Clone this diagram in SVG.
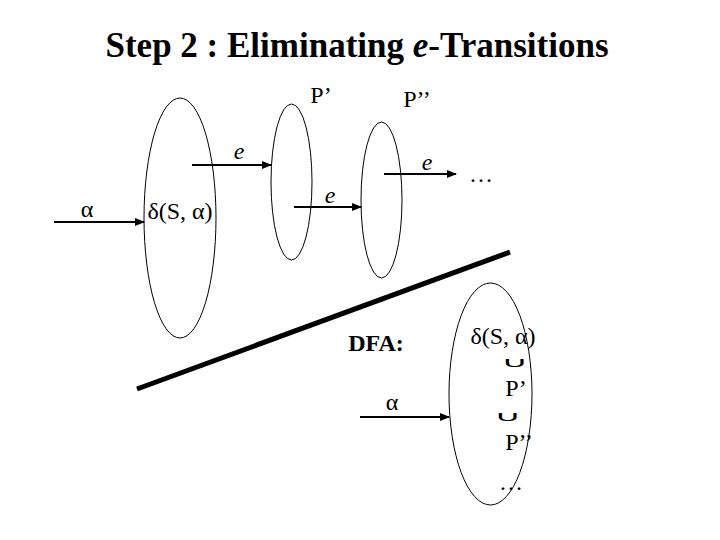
<svg xmlns="http://www.w3.org/2000/svg" width="720" height="540" viewBox="0 0 720 540">
<style>
text{font-family:"Liberation Serif","Times New Roman",serif;fill:#000}
.t{font-size:24px}
.cup{font-family:"DejaVu Sans","Liberation Serif",sans-serif;font-size:24px;font-weight:200}
.i{font-style:italic}
.b{font-weight:bold}
.node ellipse{fill:none;stroke:#000;stroke-width:1}
.edge line{stroke:#000;stroke-width:2}
</style>
<defs>
<marker id="ah" markerWidth="10" markerHeight="8" refX="9" refY="4" orient="auto" markerUnits="userSpaceOnUse">
<path d="M0,0 L10,4 L0,8 z" fill="#000"/>
</marker>
</defs>
<rect width="720" height="540" fill="#fff"/>
<text x="357" y="57" text-anchor="middle" class="b" font-size="35">Step 2 : Eliminating <tspan class="i">e</tspan>-Transitions</text>

<g id="n1" class="node">
<ellipse cx="180" cy="218" rx="36" ry="120"/>
<text x="180" y="219" text-anchor="middle" class="t">δ(S, α)</text>
</g>
<g id="n2" class="node">
<ellipse cx="291.5" cy="182" rx="20.5" ry="78"/>
<text x="321" y="103" text-anchor="middle" class="t">P’</text>
</g>
<g id="n3" class="node">
<ellipse cx="381.5" cy="200" rx="20.5" ry="78"/>
<text x="417" y="107" text-anchor="middle" class="t">P’’</text>
</g>
<g id="n4" class="node">
<ellipse cx="490.5" cy="394" rx="41.5" ry="111"/>
<text x="503" y="344" text-anchor="middle" class="t">δ(S, α)</text>
<text transform="translate(515,367) scale(1.6,0.6)" text-anchor="middle" class="cup">∪</text>
<text x="516" y="396" text-anchor="middle" class="t">P’</text>
<text transform="translate(508,421) scale(1.6,0.6)" text-anchor="middle" class="cup">∪</text>
<text x="519" y="450" text-anchor="middle" class="t">P’’</text>
<text x="511" y="490" text-anchor="middle" class="t">…</text>
</g>

<g id="edges" class="edge">
<line x1="54" y1="222" x2="144" y2="222" marker-end="url(#ah)"/>
<line x1="192" y1="165" x2="271" y2="165" marker-end="url(#ah)"/>
<line x1="294" y1="207" x2="361" y2="207" marker-end="url(#ah)"/>
<line x1="384" y1="174" x2="456" y2="174" marker-end="url(#ah)"/>
<line x1="360" y1="417" x2="449" y2="417" marker-end="url(#ah)"/>
</g>
<g id="labels">
<text x="87" y="217" text-anchor="middle" class="t">α</text>
<text x="239" y="159" text-anchor="middle" class="t i">e</text>
<text x="330" y="203" text-anchor="middle" class="t i">e</text>
<text x="427" y="170" text-anchor="middle" class="t i">e</text>
<text x="481" y="182" text-anchor="middle" class="t">…</text>
<text x="392" y="410" text-anchor="middle" class="t">α</text>
<text x="376" y="351" text-anchor="middle" class="t b">DFA:</text>
</g>
<line x1="137" y1="389" x2="510" y2="252" stroke="#000" stroke-width="5"/>
</svg>
